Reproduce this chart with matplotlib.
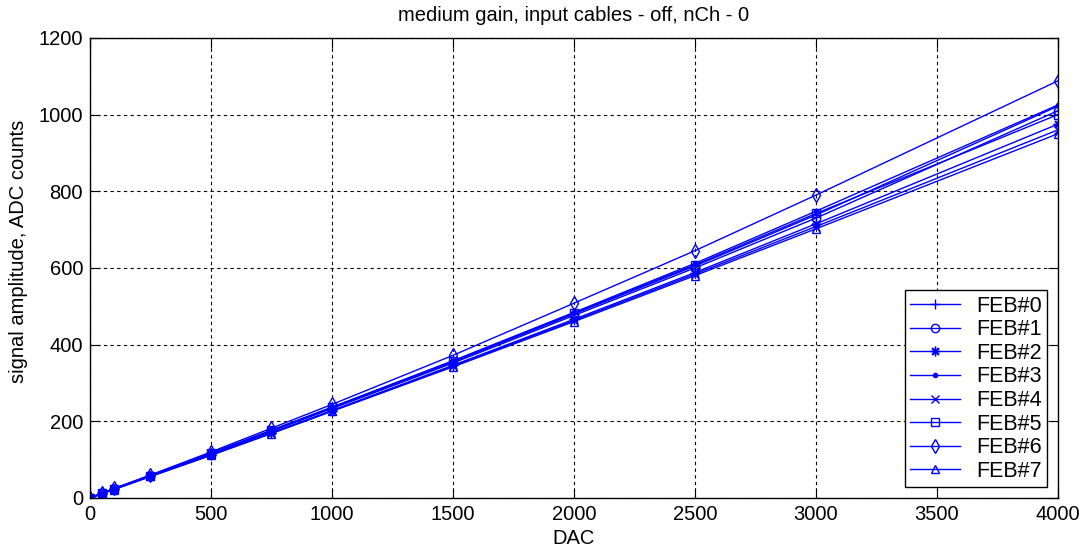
import matplotlib
matplotlib.use("Agg")
import matplotlib.pyplot as plt

plt.rcParams['font.family'] = ['Liberation Sans', 'DejaVu Sans']

dac = [0, 50, 100, 250, 500, 750, 1000, 1500, 2000, 2500, 3000, 4000]

feb0 = [0, 12, 24, 58, 116, 175, 235, 355, 480, 605, 738, 1022]
feb1 = [0, 12, 24, 58, 115, 174, 233, 352, 476, 600, 730, 1010]
feb2 = [0, 11, 23, 57, 113, 170, 228, 346, 466, 588, 715, 975]
feb3 = [0, 12, 24, 59, 117, 177, 237, 358, 484, 612, 748, 1025]
feb4 = [0, 11, 23, 56, 112, 169, 227, 344, 463, 584, 708, 960]
feb5 = [0, 12, 24, 58, 116, 176, 236, 356, 482, 608, 742, 1000]
feb6 = [0, 12, 25, 60, 120, 182, 244, 372, 508, 645, 790, 1088]
feb7 = [0, 11, 22, 56, 111, 168, 226, 342, 460, 580, 702, 950]

series = [feb0, feb1, feb2, feb3, feb4, feb5, feb6, feb7]
names = ['FEB#0', 'FEB#1', 'FEB#2', 'FEB#3', 'FEB#4', 'FEB#5', 'FEB#6', 'FEB#7']
# matlab-ish marker set: + o * . x s d ^
markers = ['+', 'o', (8, 2, 0), '.', 'x', 's', 'd', '^']
sizes = [7, 6, 7, 6, 6, 6, 7, 6]

fig = plt.figure(figsize=(10.88, 5.57), dpi=100)
ax = fig.add_axes([0.0827, 0.106, 0.8897, 0.826])

for vals, name, mk, sz in zip(series, names, markers, sizes):
    ax.plot(dac, vals, color='#0000ff', lw=1, marker=mk, ms=sz,
            mfc='none' if mk != '.' else '#0000ff',
            mec='#0000ff', mew=1, label=name)

ax.set_xlim(0, 4000)
ax.set_ylim(0, 1200)
ax.set_xticks(range(0, 4001, 500))
ax.set_yticks(range(0, 1201, 200))
ax.grid(True, color='black', linestyle=(0, (3, 3)), linewidth=0.8)
ax.tick_params(direction='in', top=True, right=True, labelsize=14.5, length=7, pad=5)
for s in ax.spines.values():
    s.set_linewidth(1)

ax.set_xlabel('DAC', fontsize=14.5, labelpad=4)
ax.set_ylabel('signal amplitude, ADC counts', fontsize=14.5)
ax.yaxis.set_label_coords(-0.064, 0.537)
ax.set_title('medium gain, input cables - off, nCh - 0', fontsize=14.5, pad=12)

leg = ax.legend(loc='lower right', numpoints=1, fontsize=15.5, fancybox=False,
                framealpha=1, edgecolor='black', handlelength=2.3,
                borderaxespad=0.5, labelspacing=0.12, borderpad=0.25,
                handletextpad=0.75)
leg.get_frame().set_linewidth(1)

fig.savefig('out.png', dpi=100)
